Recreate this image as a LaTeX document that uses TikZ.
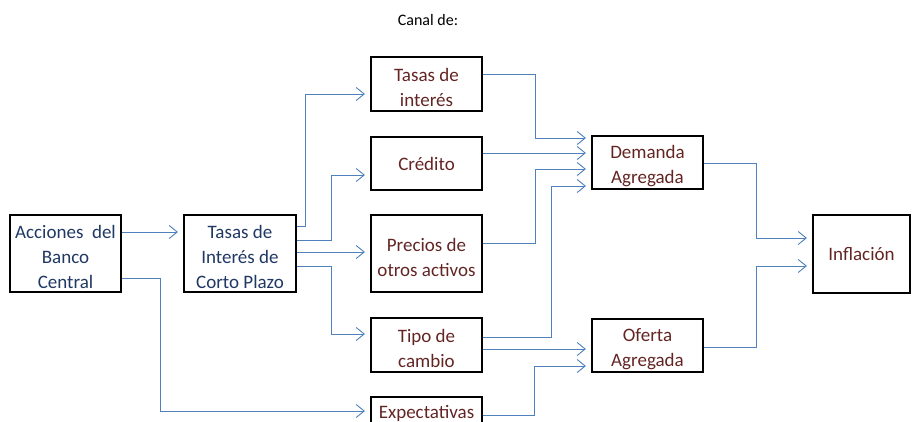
\documentclass[tikz,border=0pt]{standalone}
\usepackage{fontspec}
\setmainfont{Carlito}
\usetikzlibrary{arrows.meta,calc}
\definecolor{lnblue}{RGB}{79,129,189}
\definecolor{txtblue}{RGB}{31,56,100}
\definecolor{txtred}{RGB}{99,37,35}
\newcommand{\mytopstrut}{\rule{0pt}{20.5pt}}
\tikzset{
  box/.style={draw=black, line width=2.2pt, rectangle, inner sep=0pt, align=center,
    font=\fontsize{19}{25}\selectfont},
  bluetext/.style={text=txtblue},
  redtext/.style={text=txtred},
  conn/.style={draw=lnblue, line width=0.9pt,
    -{Straight Barb[length=8pt,width=13pt,line width=0.9pt]}, shorten >=5pt},
}
\begin{document}
\begin{tikzpicture}[x=1pt,y=-1pt]
\clip (0,0) rectangle (912,421);
\node[font=\fontsize{16}{20}\selectfont] (cd) at (428,20.5) {Canal de:};
\node[box,bluetext,minimum width=111pt,minimum height=77pt] (ac) at (65.5,253.5) {\mytopstrut Acciones\ \ del\\Banco\\Central};
\node[box,bluetext,minimum width=112pt,minimum height=77pt] (tc) at (240,253.5) {\mytopstrut Tasas de\\Interés de\\Corto Plazo};
\node[box,redtext,minimum width=111pt,minimum height=54pt] (ti) at (426.5,84) {\mytopstrut Tasas de\\interés};
\node[box,redtext,minimum width=111pt,minimum height=53pt] (cr) at (426.5,163.5) {Crédito};
\node[box,redtext,minimum width=111pt,minimum height=77pt] (pr) at (426.5,253.5) {\mytopstrut Precios de\\otros activos};
\node[box,redtext,minimum width=111pt,minimum height=54pt] (tp) at (426.5,345) {\mytopstrut Tipo de\\cambio};
\node[box,redtext,minimum width=111pt,minimum height=54pt] (ex) at (426.5,424) {Expectativas\\~};
\node[box,redtext,minimum width=111pt,minimum height=53pt] (da) at (647.5,162.5) {\mytopstrut Demanda\\Agregada};
\node[box,redtext,minimum width=111pt,minimum height=53pt] (of) at (647.5,345.5) {\mytopstrut Oferta\\Agregada};
\node[box,redtext,minimum width=97pt,minimum height=78pt] (in) at (861.5,254) {Inflación};

\draw[conn] (ac.east |- 0,232) -- (tc.west |- 0,232);
\draw[conn] (ac.east |- 0,278) -| (160,411) -- (ex.west |- 0,411);
\draw[conn] (tc.east |- 0,226) -| (305,94) -- (ti.west |- 0,94);
\draw[conn] (tc.east |- 0,240) -| (331,175) -- (cr.west |- 0,175);
\draw[conn] (tc.east |- 0,252) -- (pr.west |- 0,252);
\draw[conn] (tc.east |- 0,266) -| (331,334) -- (tp.west |- 0,334);
\draw[conn] (ti.east |- 0,74) -| (535,138) -- (da.west |- 0,138);
\draw[conn] (cr.east |- 0,153) -- (da.west |- 0,153);
\draw[conn] (pr.east |- 0,243) -| (535,169) -- (da.west |- 0,169);
\draw[conn] (tp.east |- 0,337) -| (551,186) -- (da.west |- 0,186);
\draw[conn] (tp.east |- 0,349) -- (of.west |- 0,349);
\draw[conn] (ex.east |- 0,415) -| (534,366) -- (of.west |- 0,366);
\draw[conn] (da.east |- 0,163) -| (756,238) -- (in.west |- 0,238);
\draw[conn] (of.east |- 0,347) -| (756,266) -- (in.west |- 0,266);
\end{tikzpicture}
\end{document}
